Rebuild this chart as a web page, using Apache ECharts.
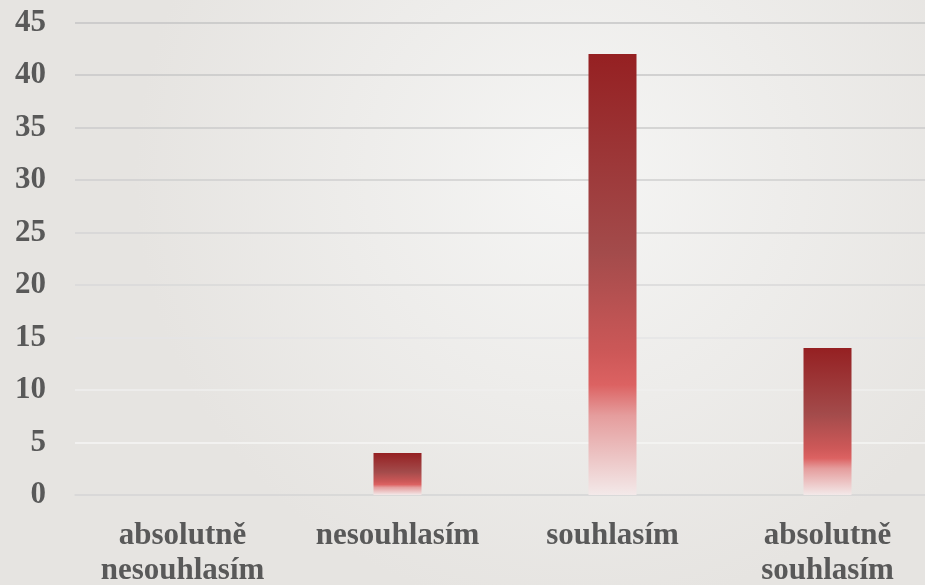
<!DOCTYPE html>
<html>
<head>
<meta charset="utf-8">
<script src="https://cdn.jsdelivr.net/npm/echarts@6/dist/echarts.min.js"></script>
<style>
  html, body { margin: 0; padding: 0; }
  #chart { width: 925px; height: 585px; }
</style>
</head>
<body>
<div id="chart"></div>
<script>
  // data
  const categories = ['absolutně\nnesouhlasím', 'nesouhlasím', 'souhlasím', 'absolutně\nsouhlasím']
  const values = [0, 4, 42, 14]

  // gridlines fade out toward the bottom (index 0 = value 0)
  const gridColors = ['#d8d8d8', '#f6f6f5', '#efefee', '#e5e5e6', '#d9d9d9', '#d4d4d4', '#cfcfcf', '#cbcbcb', '#c7c7c7', '#c4c4c4']

  const font = '"Times New Roman", "Liberation Serif", serif'

  const chart = echarts.init(document.getElementById('chart'))
  chart.setOption({
    backgroundColor: new echarts.graphic.RadialGradient(0.62, 0.3, 0.75, [
      { offset: 0, color: '#f5f5f4' },
      { offset: 1, color: '#e6e4e1' }
    ]),
    animation: false,
    grid: { left: 75, right: -10, top: 22.5, bottom: 90, containLabel: false, outerBoundsMode: 'none' },
    xAxis: {
      type: 'category',
      data: categories,
      axisTick: { show: false },
      axisLine: { lineStyle: { color: '#d8d8d8', width: 1.5 } },
      axisLabel: {
        interval: 0,
        margin: 23,
        color: '#595959',
        fontFamily: font,
        fontWeight: 'bold',
        fontSize: 31,
        lineHeight: 35
      }
    },
    yAxis: {
      type: 'value',
      min: 0,
      max: 45,
      interval: 5,
      axisLine: { show: false },
      axisTick: { show: false },
      axisLabel: {
        margin: 29,
        color: '#595959',
        fontFamily: font,
        fontWeight: 'bold',
        fontSize: 31
      },
      splitLine: { lineStyle: { color: gridColors, width: 1.5 } }
    },
    series: [{
      type: 'bar',
      data: values,
      barWidth: 48,
      itemStyle: {
        color: new echarts.graphic.LinearGradient(0, 0, 0, 1, [
          { offset: 0, color: '#952022' },
          { offset: 0.45, color: '#a34b4b' },
          { offset: 0.68, color: '#cd5858' },
          { offset: 0.75, color: '#dc6262' },
          { offset: 0.82, color: '#e59d9d' },
          { offset: 1, color: '#f3e9e9' }
        ])
      }
    }]
  })
</script>
</body>
</html>
